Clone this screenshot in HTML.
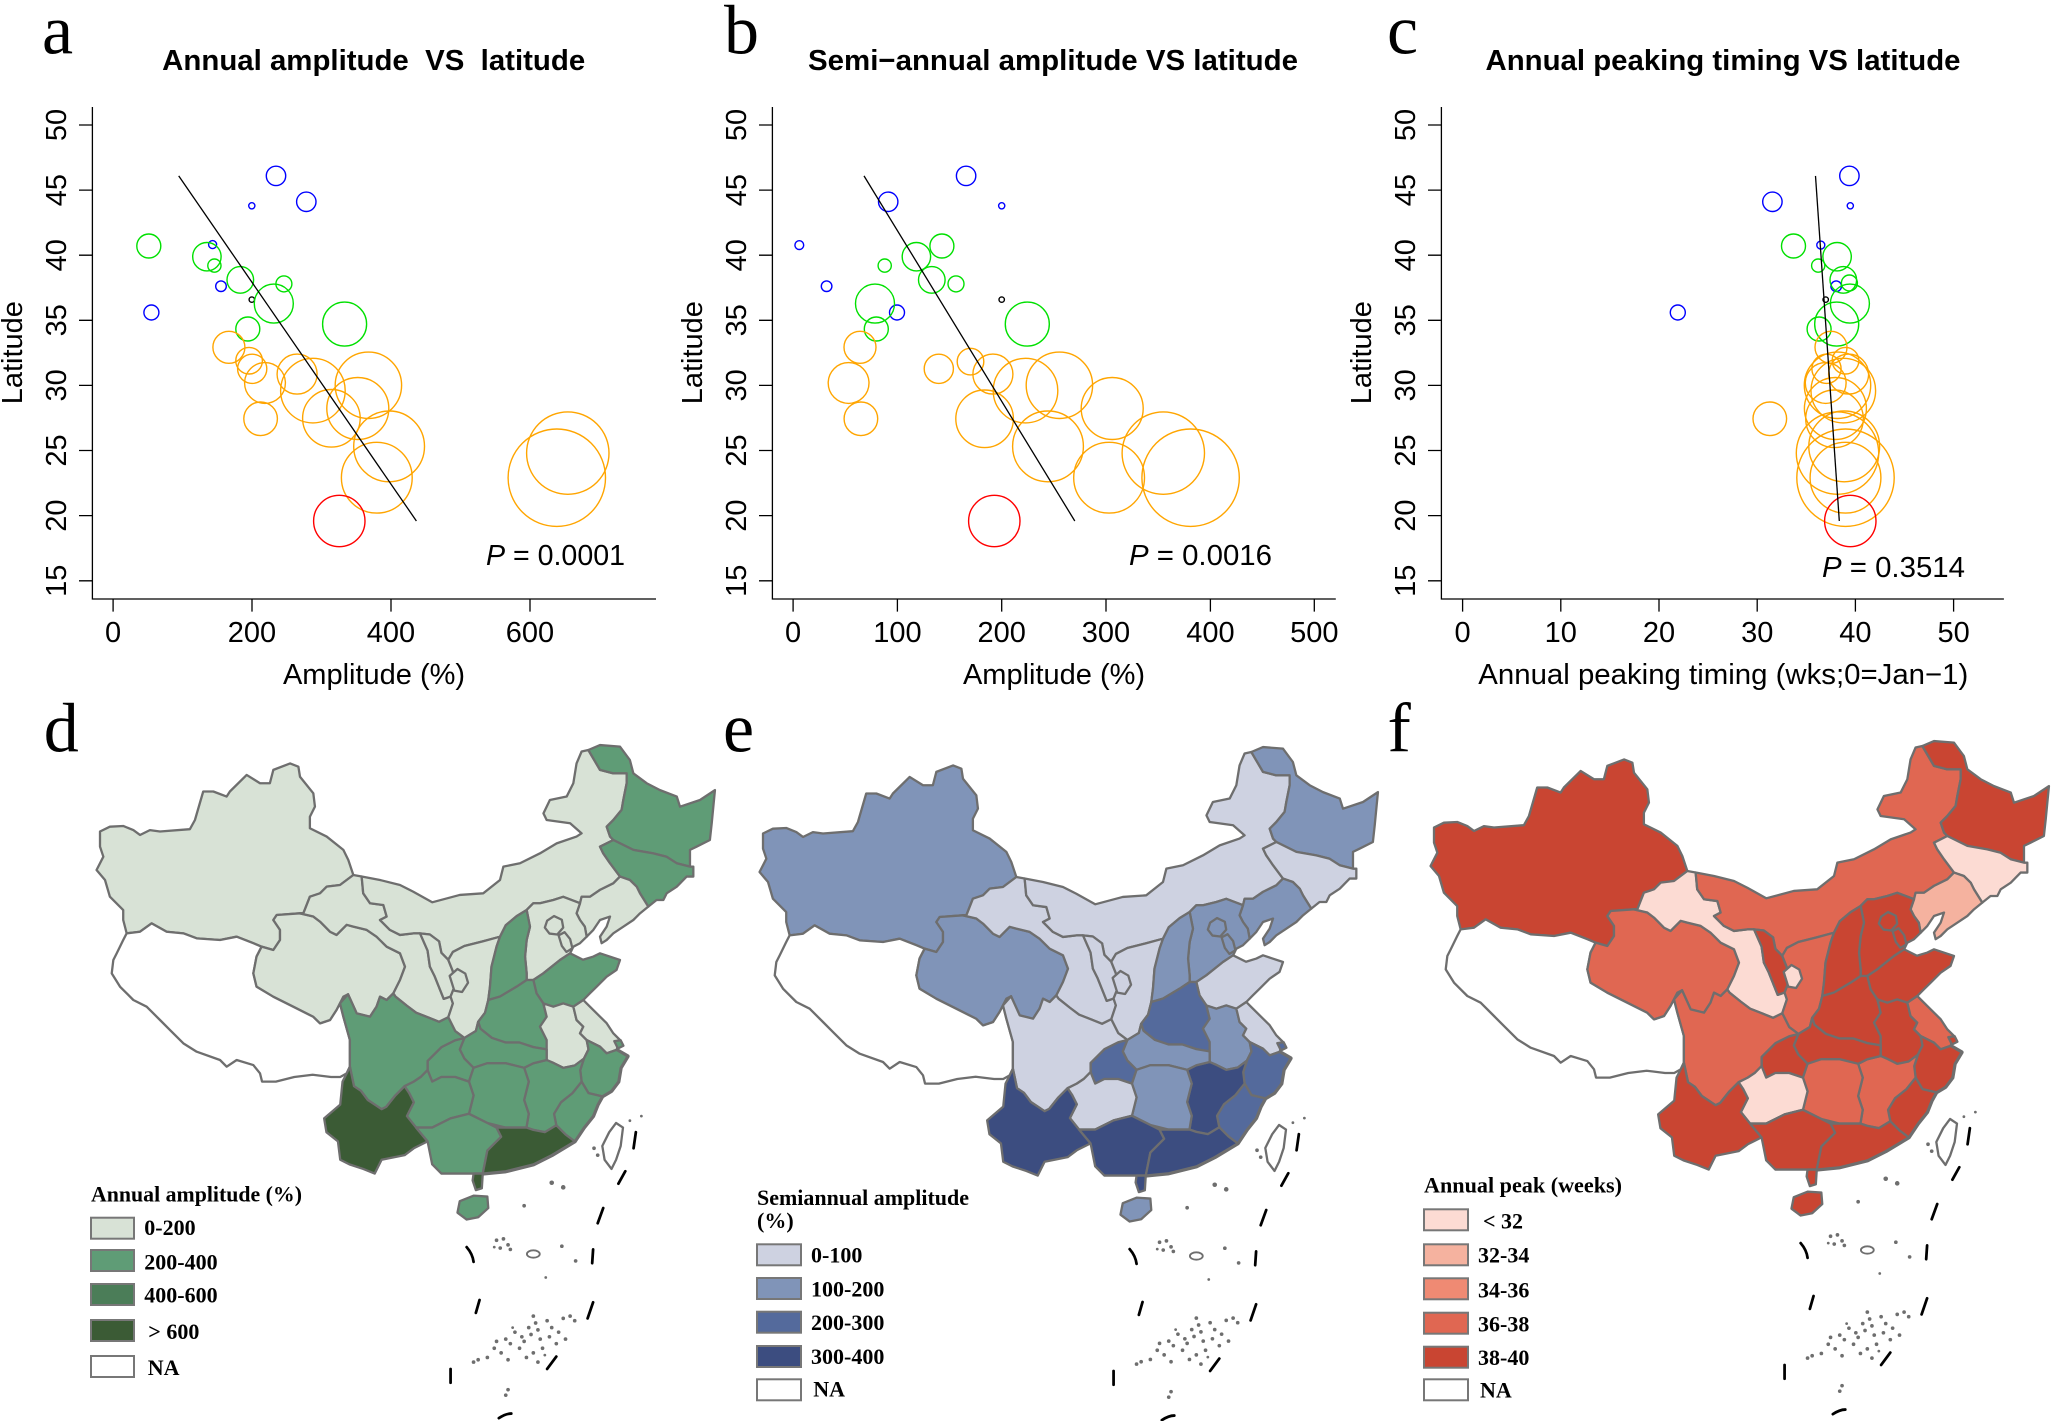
<!DOCTYPE html>
<html><head><meta charset="utf-8"><style>body{margin:0;background:#fff}svg{display:block}</style></head>
<body>
<svg xmlns="http://www.w3.org/2000/svg" width="2051" height="1421" viewBox="0 0 2051 1421">
<rect width="2051" height="1421" fill="#fff"/>
<defs>
<polygon id="XJ" points="217.5,286 239,275.5 268,274 290,283 304.5,293.6 326,283 348,286 413,281 424,261 442,199 464,199 493,210 500,199 536.5,163 565.5,181 587,181 594.5,152 631,138 649,145 652.5,167 681.5,203 685,232 674,254 674,279 710.5,297 746.8,326 757.6,348 768.5,380.6 754,391.5 739.5,402.4 710.5,406 696,420.5 674,427.8 659.8,464 652.5,464 601.8,467.6 594.5,478.5 609,500 609,522 594.5,543.8 569,536.5 551,529 514.8,514.8 478.5,522 427.8,518.4 398.8,507.5 362.5,504 329.9,485.8 304.5,504 275.5,507.5 268,478.5 268,456.8 239,427.8 228.4,391.5 210,369.8 224.8,340.8 217.5,319"/>
<polygon id="XZ" points="275.5,507.5 304.5,504 329.9,485.8 362.5,504 398.8,507.5 427.8,518.4 478.5,522 514.8,514.8 551,529 569,536.5 558,558 551,594.5 558,623.5 594.5,645.3 638,667 681.5,689 696,703.3 717.8,696 732,674 746.8,645.3 757,640 739.5,659.8 746.8,688.8 761,739.5 761,797.5 754,812 740,820 720,820 680,815 640,820 600,830 570,830 565.5,812 551,794 514.8,783 493,797.5 478.5,783 427.8,765 398.8,746.8 369.8,717.8 348,696 319,667 290,652.5 261,623.5 243,594.5 246.5,565.5 253.8,551 268,522"/>
<polygon id="QH" points="601.8,467.6 652.5,464 681.5,471 696,482 717.8,504 732,511 754,489 768.5,493 797.5,500 819,514.8 841,536.5 870,551 880.9,580 870,609 855.5,638 841,652.5 826.5,645.3 819,667 804.8,688.8 775.8,681.5 757,640 746.8,645.3 732,674 717.8,696 696,703.3 681.5,689 638,667 594.5,645.3 558,623.5 551,594.5 558,558 569,536.5 594.5,543.8 609,522 609,500 594.5,478.5"/>
<polygon id="GS" points="768.5,380.6 786.6,384 790,420.5 804.8,442 833.8,446 841,471 826.5,478.5 848,500 870,511 899,507.5 913.5,507.5 930,545 935,580 945,600 955,625 965,650 980,645 985,660 975,690 955,700 930,690 905,680 885,665 860,645 855.5,638 870,609 880.9,580 870,551 841,536.5 819,514.8 797.5,500 768.5,493 754,489 732,511 717.8,504 696,482 681.5,471 652.5,464 659.8,464 674,427.8 696,420.5 710.5,406 739.5,402.4 754,391.5"/>
<polygon id="NX" points="913.5,507.5 935,510 955,525 960,550 975,565 985,590 990,620 980,645 965,650 955,625 945,600 935,580 930,545"/>
<polygon id="SN" points="975,565 985,548 1010,535 1050,525 1087.5,514.8 1080,536.5 1069,580 1065.7,623.5 1062,652.5 1055,680 1040,700 1035,720 1010,735 990,720 975,690 985,660 980,645 990,620 985,590"/>
<polygon id="NX2" points="978,600 995,585 1012,595 1018,615 1005,635 988,632"/>
<polygon id="NM" points="786.6,384 826.5,391.5 870,402.4 899,417 940,440 1000,424 1051,420.5 1087.5,391.5 1094.8,362.5 1131,355 1174.5,333.5 1210.7,311.8 1254,297 1265,290 1240,268 1189,261 1182,246.5 1196,217.5 1232.5,210 1247,181 1254,138 1265,112 1279.6,108.75 1305,152 1334,159.5 1363,159.5 1363,181 1355.7,217.5 1352,239 1334,261 1319.5,275.5 1326.8,297 1334,304.5 1305,319 1312,333.5 1326.8,355 1348.5,384 1334,398.75 1305,413 1283,428 1265,428 1261.5,442 1225,428 1203.5,435 1174.5,442 1160,442 1145.5,456.7 1123.7,470 1100,490 1087.5,514.8 1050,525 1010,535 985,548 975,565 960,550 955,525 935,510 913.5,507.5 899,507.5 870,511 848,500 826.5,478.5 841,471 833.8,446 804.8,442 790,420.5"/>
<polygon id="HL" points="1279.6,108.75 1305,98 1348.5,101.5 1370,130.5 1377.5,159.5 1406.5,181 1435.5,196 1472,210 1479,232 1522.5,217.5 1555,196 1551.5,232 1548,268 1544,304.5 1515,319 1500.7,326 1500.7,362.5 1471.7,355 1450,341 1421,333.5 1377.5,326 1334,304.5 1326.8,297 1319.5,275.5 1334,261 1352,239 1355.7,217.5 1363,181 1363,159.5 1334,159.5 1305,152"/>
<polygon id="JL" points="1334,304.5 1377.5,326 1421,333.5 1450,341 1471.7,355 1500.7,362.5 1508,362.5 1508,384 1493.5,384 1472,406 1450,420.5 1442.8,435 1428,435 1410,449.5 1392,420.5 1384.8,406 1370,391.5 1348.5,384 1326.8,355 1312,333.5 1305,319"/>
<polygon id="LN" points="1348.5,384 1370,391.5 1384.8,406 1392,420.5 1410,449.5 1392,464 1377.5,478.5 1355.7,493 1334,507.5 1319.5,522 1308.6,529 1305,514.8 1319.5,493 1326.8,471 1305,478.5 1290.5,500 1276,514.8 1272,493 1261.5,478.5 1254,464 1261.5,442 1265,428 1283,428 1305,413 1334,398.75"/>
<polygon id="HE" points="1145.5,456.7 1160,442 1174.5,442 1203.5,435 1225,428 1261.5,442 1254,464 1261.5,478.5 1272,493 1276,514.8 1261.5,529 1247,536.5 1240,551 1218,565.5 1181.8,594.5 1160,609 1145.5,609 1145.5,594.5 1142,558 1145.5,522 1152.7,493"/>
<polygon id="SX" points="1145.5,456.7 1152.7,493 1145.5,522 1142,558 1145.5,594.5 1145.5,609 1123.7,623.5 1087.5,645 1062,652.5 1065.7,623.5 1069,580 1080,536.5 1087.5,514.8 1100,490 1123.7,470"/>
<polygon id="BJ" points="1190,480 1205,470 1222,478 1225,495 1212,510 1195,508 1185,495"/>
<polygon id="TJ" points="1215,512 1228,505 1240,520 1245,540 1232,548 1222,535"/>
<polygon id="SD" points="1160,609 1181.8,594.5 1218,565.5 1240,551 1268,565 1290.5,558 1305,551 1348.5,565.5 1341,587 1319.5,601.7 1297.7,623.5 1283,638 1268.7,652.5 1247,667 1225,660 1203.5,667 1181.8,660 1167,638"/>
<polygon id="HA" points="1062,652.5 1087.5,645 1123.7,623.5 1145.5,609 1160,609 1167,638 1181.8,660 1189,689 1174.5,710.5 1189,739.5 1189,760 1160,755 1130,745 1100,745 1070,735 1045,715 1040,700 1055,680"/>
<polygon id="AH" points="1181.8,660 1203.5,667 1225,660 1247,667 1254,696 1268.7,710.5 1261.5,725 1276,739.5 1280,760 1270,780 1250,795 1225,800 1205,790 1189,783 1189,760 1189,739.5 1174.5,710.5 1189,689"/>
<polygon id="JS" points="1247,667 1268.7,652.5 1276,660 1297.7,681.5 1319.5,703 1334,725 1348.5,739.5 1341,761 1319.5,768.5 1305,754 1276,739.5 1261.5,725 1268.7,710.5 1254,696"/>
<polygon id="ZJ" points="1276,739.5 1305,754 1319.5,768.5 1341,761 1365,775 1350,800 1345,830 1330,850 1310,862 1280,855 1265,830 1262,805 1270,780 1280,760"/>
<polygon id="FJ" points="1265,830 1280,855 1310,862 1300,880 1290,905 1270,930 1250,960 1230,945 1210,925 1205,900 1220,875 1245,855"/>
<polygon id="JX" points="1189,783 1205,790 1225,800 1250,795 1270,780 1262,805 1265,830 1245,855 1220,875 1205,900 1210,925 1185,940 1160,935 1145,930 1150,900 1140,870 1150,830 1140,800 1160,790"/>
<polygon id="HB" points="1040,700 1045,715 1070,735 1100,745 1130,745 1160,755 1189,760 1189,783 1160,790 1140,800 1100,790 1060,790 1030,800 1010,780 1000,760 1010,735 1035,720"/>
<polygon id="CQ" points="1010,735 1000,760 1010,780 1030,800 1020,830 990,820 960,820 940,830 930,805 930,785 945,770 960,755 990,740"/>
<polygon id="SC" points="757,640 775.8,681.5 804.8,688.8 819,667 826.5,645.3 841,652.5 855.5,638 860,645 885,665 905,680 930,690 955,700 975,690 990,720 1010,735 990,740 960,755 945,770 930,785 930,805 915,820 900,830 880,840 860,860 840,885 830,890 815,880 800,870 785,850 770,840 761,797.5 761,739.5 746.8,688.8 739.5,659.8"/>
<polygon id="HN" points="1030,800 1060,790 1100,790 1140,800 1150,830 1140,870 1150,900 1145,930 1100,930 1060,920 1020,900 1030,860 1020,830"/>
<polygon id="GZ" points="880,840 900,830 915,820 930,805 940,830 960,820 990,820 1020,830 1030,860 1020,900 980,910 940,930 905,930 885,905 900,875 890,855"/>
<polygon id="YN" points="754,812 761,797.5 770,840 785,850 800,870 815,880 830,890 840,885 860,860 880,840 890,855 900,875 885,905 905,930 930,960 900,975 880,990 830,1000 815,1030 790,1020 760,1010 740,1000 735,960 710,940 705,910 740,880 745,830"/>
<polygon id="GX" points="905,930 940,930 980,910 1020,900 1060,920 1080,930 1090,950 1060,980 1050,1030 1000,1030 960,1030 940,1010 930,960"/>
<polygon id="GD" points="1080,930 1100,930 1145,930 1160,935 1185,940 1210,925 1230,945 1250,960 1200,990 1160,1010 1100,1025 1050,1030 1060,980 1090,950"/>
<polygon id="GD2" points="1030,1030 1050,1030 1048,1062 1035,1066 1028,1045"/>
<polygon id="HI" points="1000,1090 1030,1078 1060,1080 1062,1105 1040,1125 1015,1130 995,1115"/>
<polygon id="TW" points="1340,920 1355,930 1350,970 1340,1000 1330,1020 1315,1000 1310,970 1325,940"/>
<polygon id="SH" points="1336,742 1350,740 1356,752 1344,758"/>
<g id="SCS">
 <polyline points="1341,761 1365,775 1350,800 1345,830 1330,850 1310,862 1300,880 1290,905 1270,930 1250,960 1200,990 1160,1010 1100,1025 1050,1030" fill="none" stroke="#6e6e6e" stroke-width="9" stroke-linejoin="round"/>
 <g fill="none" stroke="#000" stroke-width="6" stroke-linecap="round">
  <path d="M1383,940 L1378,975 M1360,1025 L1345,1052 M1312,1105 L1300,1138 M1290,1195 L1288,1225 M1290,1310 L1278,1345 M1210,1428 L1190,1455 M1085,1562 Q1100,1552 1112,1552 M980,1455 L980,1485 M1043,1305 L1035,1333 M1015,1190 Q1028,1205 1030,1222"/>
 </g>
 <g fill="#6e6e6e" stroke="none">
  <circle cx="1200" cy="1050" r="5"/><circle cx="1225" cy="1060" r="5"/><circle cx="1140" cy="1100" r="4"/>
  <circle cx="1222" cy="1188" r="4"/><circle cx="1252" cy="1220" r="4"/><circle cx="1187" cy="1256" r="3"/>
  <circle cx="1300" cy="990" r="4"/><circle cx="1292" cy="975" r="4"/><circle cx="1395" cy="905" r="3"/><circle cx="1370" cy="915" r="3"/>
  <circle cx="1080" cy="1175" r="4"/><circle cx="1095" cy="1172" r="4"/><circle cx="1105" cy="1185" r="4"/><circle cx="1088" cy="1192" r="4"/><circle cx="1110" cy="1195" r="4"/><circle cx="1075" cy="1190" r="3"/>
  <circle cx="1160" cy="1340" r="4"/><circle cx="1165" cy="1355" r="4"/><circle cx="1150" cy="1365" r="4"/><circle cx="1170" cy="1370" r="4"/><circle cx="1155" cy="1380" r="4"/><circle cx="1140" cy="1395" r="4"/><circle cx="1175" cy="1390" r="4"/><circle cx="1190" cy="1350" r="4"/><circle cx="1200" cy="1365" r="4"/><circle cx="1215" cy="1375" r="4"/><circle cx="1225" cy="1345" r="4"/><circle cx="1240" cy="1340" r="4"/><circle cx="1250" cy="1350" r="4"/><circle cx="1230" cy="1390" r="4"/><circle cx="1210" cy="1400" r="4"/><circle cx="1195" cy="1385" r="4"/><circle cx="1180" cy="1410" r="4"/><circle cx="1160" cy="1420" r="4"/><circle cx="1145" cy="1430" r="4"/><circle cx="1170" cy="1440" r="4"/><circle cx="1130" cy="1410" r="4"/><circle cx="1110" cy="1400" r="4"/><circle cx="1100" cy="1390" r="4"/><circle cx="1080" cy="1395" r="4"/><circle cx="1075" cy="1410" r="4"/><circle cx="1090" cy="1420" r="4"/><circle cx="1060" cy="1430" r="4"/><circle cx="1040" cy="1435" r="4"/><circle cx="1030" cy="1440" r="4"/><circle cx="1105" cy="1435" r="4"/><circle cx="1120" cy="1375" r="4"/><circle cx="1135" cy="1385" r="4"/><circle cx="1105" cy="1500" r="4"/><circle cx="1100" cy="1512" r="4"/><circle cx="1115" cy="1365" r="3"/><circle cx="1185" cy="1425" r="3"/>
 </g>
 <ellipse cx="1160" cy="1205" rx="14" ry="8" fill="none" stroke="#6e6e6e" stroke-width="4"/>
</g>
</defs>

<!-- ============ SCATTER PANELS ============ -->
<g font-family="'Liberation Sans', Arial, sans-serif" fill="#000">
<g font-family="'Liberation Serif', 'Times New Roman', serif" font-size="70">
 <text x="42" y="53.6">a</text><text x="724" y="53.6">b</text><text x="1387" y="53.6">c</text>
 <text x="43.7" y="751.5">d</text><text x="723" y="751.5">e</text><text x="1387.5" y="751.5">f</text>
</g>
<g font-weight="bold" font-size="29" text-anchor="middle">
 <text x="373.7" y="70" textLength="423" lengthAdjust="spacingAndGlyphs" xml:space="preserve">Annual amplitude  VS  latitude</text>
 <text x="1053" y="70" textLength="490" lengthAdjust="spacingAndGlyphs">Semi−annual amplitude VS latitude</text>
 <text x="1723" y="70" textLength="475" lengthAdjust="spacingAndGlyphs">Annual peaking timing VS latitude</text>
</g>
<g fill="none" stroke="#000" stroke-width="1.3">
 <path d="M92.4,107 V599 H656"/>
 <path d="M772.4,107 V599 H1335.8"/>
 <path d="M1441.4,107 V599 H2003.9"/>
 <path d="M79,125H92.4M79,190.1H92.4M79,255.2H92.4M79,320.3H92.4M79,385.4H92.4M79,450.5H92.4M79,515.6H92.4M79,580.8H92.4"/>
 <path d="M759,125H772.4M759,190.1H772.4M759,255.2H772.4M759,320.3H772.4M759,385.4H772.4M759,450.5H772.4M759,515.6H772.4M759,580.8H772.4"/>
 <path d="M1428,125H1441.4M1428,190.1H1441.4M1428,255.2H1441.4M1428,320.3H1441.4M1428,385.4H1441.4M1428,450.5H1441.4M1428,515.6H1441.4M1428,580.8H1441.4"/>
 <path d="M113.1,599V611.6M252,599V611.6M391,599V611.6M530,599V611.6"/>
 <path d="M793.1,599V611.6M897.4,599V611.6M1001.7,599V611.6M1106,599V611.6M1210.4,599V611.6M1314.3,599V611.6"/>
 <path d="M1462.6,599V611.6M1560.8,599V611.6M1659,599V611.6M1757.2,599V611.6M1855.4,599V611.6M1953.6,599V611.6"/>
</g>
<g font-size="29" text-anchor="middle">
 <text x="113.1" y="642">0</text><text x="252" y="642">200</text><text x="391" y="642">400</text><text x="530" y="642">600</text>
 <text x="793.1" y="642">0</text><text x="897.4" y="642">100</text><text x="1001.7" y="642">200</text><text x="1106" y="642">300</text><text x="1210.4" y="642">400</text><text x="1314.3" y="642">500</text>
 <text x="1462.6" y="642">0</text><text x="1560.8" y="642">10</text><text x="1659" y="642">20</text><text x="1757.2" y="642">30</text><text x="1855.4" y="642">40</text><text x="1953.6" y="642">50</text>
 <text transform="translate(66,125) rotate(-90)">50</text><text transform="translate(66,190.1) rotate(-90)">45</text><text transform="translate(66,255.2) rotate(-90)">40</text><text transform="translate(66,320.3) rotate(-90)">35</text><text transform="translate(66,385.4) rotate(-90)">30</text><text transform="translate(66,450.5) rotate(-90)">25</text><text transform="translate(66,515.6) rotate(-90)">20</text><text transform="translate(66,580.8) rotate(-90)">15</text>
 <text transform="translate(746,125) rotate(-90)">50</text><text transform="translate(746,190.1) rotate(-90)">45</text><text transform="translate(746,255.2) rotate(-90)">40</text><text transform="translate(746,320.3) rotate(-90)">35</text><text transform="translate(746,385.4) rotate(-90)">30</text><text transform="translate(746,450.5) rotate(-90)">25</text><text transform="translate(746,515.6) rotate(-90)">20</text><text transform="translate(746,580.8) rotate(-90)">15</text>
 <text transform="translate(1415,125) rotate(-90)">50</text><text transform="translate(1415,190.1) rotate(-90)">45</text><text transform="translate(1415,255.2) rotate(-90)">40</text><text transform="translate(1415,320.3) rotate(-90)">35</text><text transform="translate(1415,385.4) rotate(-90)">30</text><text transform="translate(1415,450.5) rotate(-90)">25</text><text transform="translate(1415,515.6) rotate(-90)">20</text><text transform="translate(1415,580.8) rotate(-90)">15</text>
 <text transform="translate(22,352.7) rotate(-90)">Latitude</text>
 <text transform="translate(702,352.7) rotate(-90)">Latitude</text>
 <text transform="translate(1371,352.7) rotate(-90)">Latitude</text>
 <text x="374" y="684">Amplitude (%)</text>
 <text x="1054" y="684">Amplitude (%)</text>
 <text x="1723.3" y="684" textLength="490" lengthAdjust="spacingAndGlyphs">Annual peaking timing (wks;0=Jan−1)</text>
</g>
<g font-size="29">
 <text x="486" y="565" textLength="139" lengthAdjust="spacingAndGlyphs"><tspan font-style="italic">P</tspan> = 0.0001</text>
 <text x="1129" y="565" textLength="143" lengthAdjust="spacingAndGlyphs"><tspan font-style="italic">P</tspan> = 0.0016</text>
 <text x="1822" y="577" textLength="143" lengthAdjust="spacingAndGlyphs"><tspan font-style="italic">P</tspan> = 0.3514</text>
</g>
</g>

<g fill="none" stroke-width="1.4">
 <g stroke="#0000ff"><circle cx="276" cy="175.9" r="9.7"/><circle cx="306.3" cy="201.8" r="9.7"/><circle cx="251.8" cy="205.8" r="3.1"/><circle cx="212.6" cy="244.6" r="4"/><circle cx="221" cy="286.2" r="5.3"/><circle cx="151.4" cy="312.5" r="7.5"/></g>
 <circle cx="251.8" cy="299.6" r="2.7" stroke="#000"/>
 <g stroke="#00e000"><circle cx="148.8" cy="246" r="12"/><circle cx="206.9" cy="256.7" r="14.2"/><circle cx="214.4" cy="265.6" r="6.6"/><circle cx="240.3" cy="279.9" r="13.3"/><circle cx="283.9" cy="283.9" r="8"/><circle cx="273.8" cy="303.6" r="19.5"/><circle cx="247.8" cy="329" r="12"/><circle cx="344.6" cy="324.1" r="22"/></g>
 <g stroke="#ffa500"><circle cx="228.9" cy="347.3" r="16"/><circle cx="249.1" cy="360.7" r="13.3"/><circle cx="252.2" cy="368.8" r="14.6"/><circle cx="265" cy="383" r="20.4"/><circle cx="297.1" cy="374.1" r="20"/><circle cx="312.9" cy="390.6" r="32.3"/><circle cx="368.4" cy="385.3" r="33.2"/><circle cx="331.4" cy="418.3" r="28.8"/><circle cx="357.8" cy="408.5" r="31"/><circle cx="389.1" cy="446.4" r="35.4"/><circle cx="376.8" cy="477.7" r="35.4"/><circle cx="260.6" cy="418.8" r="16.8"/><circle cx="567.8" cy="453.1" r="41.2"/><circle cx="556.8" cy="477.7" r="48.7"/></g>
 <circle cx="339.3" cy="521" r="25.7" stroke="#ff0000"/>
 <line x1="178.7" y1="175.9" x2="416.4" y2="521" stroke="#000" stroke-width="1.3"/>
</g>
<g fill="none" stroke-width="1.4">
 <g stroke="#0000ff"><circle cx="966.1" cy="175.9" r="9.7"/><circle cx="888.2" cy="201.8" r="9.7"/><circle cx="1001.7" cy="205.8" r="3.1"/><circle cx="799.3" cy="245.1" r="4.4"/><circle cx="826.6" cy="286.2" r="5.3"/><circle cx="897" cy="312.5" r="7.5"/></g>
 <circle cx="1001.7" cy="299.6" r="2.7" stroke="#000"/>
 <g stroke="#00e000"><circle cx="941.9" cy="246" r="12"/><circle cx="916.4" cy="256.7" r="14.2"/><circle cx="884.7" cy="265.6" r="6.6"/><circle cx="931.8" cy="279.9" r="13.3"/><circle cx="956" cy="283.9" r="8"/><circle cx="875" cy="303.6" r="19.5"/><circle cx="876.3" cy="329" r="12"/><circle cx="1027.3" cy="324.1" r="22"/></g>
 <g stroke="#ffa500"><circle cx="860" cy="347.3" r="16"/><circle cx="970.5" cy="361.6" r="13.3"/><circle cx="938.8" cy="368.8" r="14.6"/><circle cx="848.6" cy="383" r="20.4"/><circle cx="992.9" cy="374.1" r="20"/><circle cx="1025.5" cy="390.6" r="32.3"/><circle cx="1059.4" cy="385.3" r="33.2"/><circle cx="984.6" cy="418.8" r="28.8"/><circle cx="1112.2" cy="408.5" r="31"/><circle cx="1048" cy="446.4" r="35.4"/><circle cx="1109.1" cy="477.7" r="35.4"/><circle cx="860.9" cy="418.8" r="16.8"/><circle cx="1163.3" cy="453.1" r="41.2"/><circle cx="1190.6" cy="477.7" r="48.7"/></g>
 <circle cx="994.3" cy="521" r="25.7" stroke="#ff0000"/>
 <line x1="864" y1="175.9" x2="1074.8" y2="521" stroke="#000" stroke-width="1.3"/>
</g>
<g fill="none" stroke-width="1.4">
 <g stroke="#0000ff"><circle cx="1849.4" cy="175.9" r="9.7"/><circle cx="1772.4" cy="201.8" r="9.7"/><circle cx="1850.3" cy="205.8" r="3.1"/><circle cx="1820.8" cy="245.1" r="4"/><circle cx="1836.2" cy="286.2" r="5.3"/><circle cx="1677.8" cy="312.5" r="7.5"/></g>
 <circle cx="1825.7" cy="299.6" r="2.7" stroke="#000"/>
 <g stroke="#00e000"><circle cx="1793.5" cy="246" r="12"/><circle cx="1837.1" cy="256.7" r="14.2"/><circle cx="1818.2" cy="265.6" r="6.6"/><circle cx="1843.3" cy="279.9" r="13.3"/><circle cx="1849.4" cy="283" r="8"/><circle cx="1849.9" cy="303.6" r="19.5"/><circle cx="1819.1" cy="329" r="12"/><circle cx="1836.7" cy="324.1" r="22"/></g>
 <g stroke="#ffa500"><circle cx="1831" cy="347.3" r="16"/><circle cx="1845.5" cy="360.7" r="13.3"/><circle cx="1826.5" cy="368.8" r="14.6"/><circle cx="1825.7" cy="383" r="20.4"/><circle cx="1848.6" cy="374.1" r="20"/><circle cx="1843.3" cy="390.6" r="32.3"/><circle cx="1837.5" cy="385.3" r="33.2"/><circle cx="1834.5" cy="418.8" r="28.8"/><circle cx="1835.4" cy="408.5" r="31"/><circle cx="1844.2" cy="446.4" r="35.4"/><circle cx="1845.5" cy="477.7" r="35.4"/><circle cx="1769.8" cy="418.8" r="16.8"/><circle cx="1837.5" cy="453.1" r="41.2"/><circle cx="1845.5" cy="477.7" r="48.7"/></g>
 <circle cx="1850.3" cy="521" r="25.7" stroke="#ff0000"/>
 <line x1="1815.5" y1="175.9" x2="1839.3" y2="521" stroke="#000" stroke-width="1.3"/>
</g>

<!-- ============ MAPS ============ -->
<g transform="translate(0,700) scale(0.45977)" stroke="#6e6e6e" stroke-width="5" stroke-linejoin="round">
 <use href="#SCS"/>
 <use href="#XJ" fill="#d8e2d6"/><use href="#XZ" fill="#ffffff"/><use href="#QH" fill="#d8e2d6"/><use href="#GS" fill="#d8e2d6"/>
 <use href="#NM" fill="#d8e2d6"/><use href="#NX" fill="#d8e2d6"/><use href="#SN" fill="#d8e2d6"/><use href="#NX2" fill="#d8e2d6"/>
 <use href="#HL" fill="#5f9c76"/><use href="#JL" fill="#5f9c76"/><use href="#LN" fill="#d8e2d6"/><use href="#HE" fill="#d8e2d6"/>
 <use href="#SX" fill="#5f9c76"/><use href="#BJ" fill="#d8e2d6"/><use href="#TJ" fill="#d8e2d6"/><use href="#SD" fill="#5f9c76"/>
 <use href="#HA" fill="#5f9c76"/><use href="#AH" fill="#d8e2d6"/><use href="#JS" fill="#d8e2d6"/><use href="#ZJ" fill="#5f9c76"/>
 <use href="#FJ" fill="#5f9c76"/><use href="#JX" fill="#5f9c76"/><use href="#HB" fill="#5f9c76"/><use href="#CQ" fill="#5f9c76"/>
 <use href="#SC" fill="#5f9c76"/><use href="#HN" fill="#5f9c76"/><use href="#GZ" fill="#5f9c76"/><use href="#YN" fill="#3b5b35"/>
 <use href="#GX" fill="#5f9c76"/><use href="#GD" fill="#3b5b35"/><use href="#GD2" fill="#3b5b35"/><use href="#HI" fill="#5f9c76"/>
 <use href="#TW" fill="#ffffff"/><use href="#SH" fill="#5f9c76"/>
</g>
<g transform="translate(663,702) scale(0.45977)" stroke="#6e6e6e" stroke-width="5" stroke-linejoin="round">
 <use href="#SCS"/>
 <use href="#XJ" fill="#8094b8"/><use href="#XZ" fill="#ffffff"/><use href="#QH" fill="#8094b8"/><use href="#GS" fill="#ced2e1"/>
 <use href="#NM" fill="#ced2e1"/><use href="#NX" fill="#ced2e1"/><use href="#SN" fill="#ced2e1"/><use href="#NX2" fill="#ced2e1"/>
 <use href="#HL" fill="#8094b8"/><use href="#JL" fill="#ced2e1"/><use href="#LN" fill="#8094b8"/><use href="#HE" fill="#8094b8"/>
 <use href="#SX" fill="#8094b8"/><use href="#BJ" fill="#8094b8"/><use href="#TJ" fill="#8094b8"/><use href="#SD" fill="#ced2e1"/>
 <use href="#HA" fill="#546a9c"/><use href="#AH" fill="#8094b8"/><use href="#JS" fill="#ced2e1"/><use href="#ZJ" fill="#546a9c"/>
 <use href="#FJ" fill="#546a9c"/><use href="#JX" fill="#3c4d80"/><use href="#HB" fill="#8094b8"/><use href="#CQ" fill="#546a9c"/>
 <use href="#SC" fill="#ced2e1"/><use href="#HN" fill="#8094b8"/><use href="#GZ" fill="#ced2e1"/><use href="#YN" fill="#3c4d80"/>
 <use href="#GX" fill="#3c4d80"/><use href="#GD" fill="#3c4d80"/><use href="#GD2" fill="#3c4d80"/><use href="#HI" fill="#8094b8"/>
 <use href="#TW" fill="#ffffff"/><use href="#SH" fill="#546a9c"/>
</g>
<g transform="translate(1334,696) scale(0.45977)" stroke="#6e6e6e" stroke-width="5" stroke-linejoin="round">
 <use href="#SCS"/>
 <use href="#XJ" fill="#c94532"/><use href="#XZ" fill="#ffffff"/><use href="#QH" fill="#e06752"/><use href="#GS" fill="#fcdbd3"/>
 <use href="#NM" fill="#e06752"/><use href="#NX" fill="#c94532"/><use href="#SN" fill="#e06752"/><use href="#NX2" fill="#fcdbd3"/>
 <use href="#HL" fill="#c94532"/><use href="#JL" fill="#fcdbd3"/><use href="#LN" fill="#f5b29f"/><use href="#HE" fill="#c94532"/>
 <use href="#SX" fill="#c94532"/><use href="#BJ" fill="#c94532"/><use href="#TJ" fill="#c94532"/><use href="#SD" fill="#c94532"/>
 <use href="#HA" fill="#c94532"/><use href="#AH" fill="#c94532"/><use href="#JS" fill="#e06752"/><use href="#ZJ" fill="#c94532"/>
 <use href="#FJ" fill="#c94532"/><use href="#JX" fill="#e06752"/><use href="#HB" fill="#c94532"/><use href="#CQ" fill="#c94532"/>
 <use href="#SC" fill="#e06752"/><use href="#HN" fill="#e06752"/><use href="#GZ" fill="#fcdbd3"/><use href="#YN" fill="#c94532"/>
 <use href="#GX" fill="#c94532"/><use href="#GD" fill="#c94532"/><use href="#GD2" fill="#c94532"/><use href="#HI" fill="#c94532"/>
 <use href="#TW" fill="#ffffff"/><use href="#SH" fill="#c94532"/>
</g>

<!-- ============ LEGENDS ============ -->
<g font-family="'Liberation Serif', 'Times New Roman', serif" font-weight="bold" font-size="22" fill="#000">
 <text x="91" y="1201.7" textLength="211" lengthAdjust="spacingAndGlyphs">Annual amplitude (%)</text>
 <g stroke="#777" stroke-width="2">
  <rect x="91" y="1217.7" width="43" height="21" fill="#d8e2d6"/>
  <rect x="91" y="1250" width="43" height="21" fill="#5f9c76"/>
  <rect x="91" y="1284" width="43" height="21" fill="#4b7d58"/>
  <rect x="91" y="1320" width="43" height="21" fill="#3b5b35"/>
  <rect x="91" y="1356" width="43" height="21" fill="#ffffff"/>
 </g>
 <text x="144.3" y="1235">0-200</text>
 <text x="144.3" y="1269.3">200-400</text>
 <text x="144.3" y="1302.7">400-600</text>
 <text x="148.3" y="1339">&gt; 600</text>
 <text x="147.7" y="1375">NA</text>
 <text x="757" y="1205" textLength="212" lengthAdjust="spacingAndGlyphs">Semiannual amplitude</text>
 <text x="757" y="1228">(%)</text>
 <g stroke="#777" stroke-width="2">
  <rect x="757" y="1244.3" width="44" height="21" fill="#ced2e1"/>
  <rect x="757" y="1278" width="44" height="21" fill="#8094b8"/>
  <rect x="757" y="1311.7" width="44" height="21" fill="#546a9c"/>
  <rect x="757" y="1346" width="44" height="21" fill="#3c4d80"/>
  <rect x="757" y="1379.3" width="44" height="21" fill="#ffffff"/>
 </g>
 <text x="811" y="1262.3">0-100</text>
 <text x="811" y="1296.7">100-200</text>
 <text x="811" y="1330">200-300</text>
 <text x="811" y="1364">300-400</text>
 <text x="813.3" y="1396.7">NA</text>
 <text x="1424" y="1192.7" textLength="198" lengthAdjust="spacingAndGlyphs">Annual peak (weeks)</text>
 <g stroke="#777" stroke-width="2">
  <rect x="1424" y="1209.3" width="44" height="21" fill="#fcdbd3"/>
  <rect x="1424" y="1244.3" width="44" height="21" fill="#f5b29f"/>
  <rect x="1424" y="1278.3" width="44" height="21" fill="#ef8a73"/>
  <rect x="1424" y="1312.7" width="44" height="21" fill="#e06752"/>
  <rect x="1424" y="1346.7" width="44" height="21" fill="#c94532"/>
  <rect x="1424" y="1379.3" width="44" height="21" fill="#ffffff"/>
 </g>
 <text x="1483" y="1228.3">&lt; 32</text>
 <text x="1478" y="1262.7">32-34</text>
 <text x="1478" y="1297.3">34-36</text>
 <text x="1478" y="1331.3">36-38</text>
 <text x="1478" y="1365">38-40</text>
 <text x="1480" y="1397.7">NA</text>
</g>
</svg>
</body></html>
